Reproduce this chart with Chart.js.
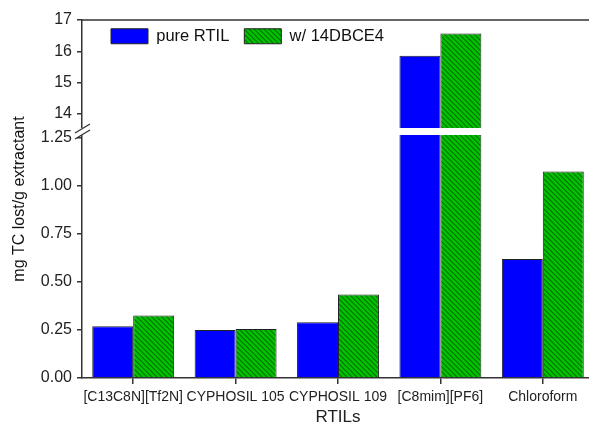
<!DOCTYPE html>
<html>
<head>
<meta charset="utf-8">
<script src="https://cdn.jsdelivr.net/npm/chart.js@4.4.1/dist/chart.umd.min.js"></script>
<style>
  html, body { margin: 0; padding: 0; background: #fff; overflow: hidden; }
  canvas { display: block; }
</style>
</head>
<body>
<canvas id="myChart" width="600" height="424"></canvas>
<script>
const categories = ['[C13C8N][Tf2N]', 'CYPHOSIL 105', 'CYPHOSIL 109', '[C8mim][PF6]', 'Chloroform'];
const pureRTIL = [0.27, 0.25, 0.29, 15.86, 0.62];
const with14DBCE4 = [0.325, 0.255, 0.435, 16.57, 1.075];
const seriesNames = ['pure RTIL', 'w/ 14DBCE4'];

// broken axis ranges
const lowerMin = 0, lowerMax = 1.284;
const upperMin = 13.438, upperMax = 17;

const FONT = "'Liberation Sans', Arial, sans-serif";
const AXIS = '#333';

function hatch() {
    const s = 5;
    const c = document.createElement('canvas');
    c.width = s; c.height = s;
    const g = c.getContext('2d');
    g.fillStyle = '#00c400';
    g.fillRect(0, 0, s, s);
    g.strokeStyle = '#007000';
    g.lineWidth = 1.2;
    g.beginPath();
    for (const k of [-s, 0, s]) {
        g.moveTo(k - 1, -1);
        g.lineTo(k + s + 1, s + 1);
    }
    g.stroke();
    return g.createPattern(c, 'repeat');
}
const greenFill = hatch();

const lowerPart = (arr) => arr.map(v => Math.min(v, lowerMax));
const upperPart = (arr) => arr.map(v => v > upperMin ? v : null);

const breakPlugin = {
    id: 'axisBreak',
    afterInit(chart) {
        // lay the in-plot legend out in one row
        chart.legend.isHorizontal = () => true;
    },
    afterLayout(chart) {
        chart.legend.left = chart.chartArea.left + 14;
        chart.legend.top = chart.chartArea.top - 7;
    },
    afterDatasetsDraw(chart) {
        const {ctx, chartArea} = chart;
        const yb = chart.scales.y.top; // boundary between stacked axes
        ctx.save();
        ctx.fillStyle = '#fff';
        ctx.fillRect(chartArea.left - 3, yb - 3.5, chart.width, 7);
        ctx.strokeStyle = AXIS;
        ctx.lineWidth = 1.3;
        ctx.beginPath();
        ctx.moveTo(75, yb + 1.5); ctx.lineTo(90, yb - 7.5);
        ctx.moveTo(75, yb + 7.5); ctx.lineTo(90, yb - 1.5);
        ctx.stroke();
        // top frame line
        ctx.lineWidth = 1.5;
        ctx.beginPath();
        ctx.moveTo(chartArea.left, chartArea.top);
        ctx.lineTo(chart.width, chartArea.top);
        ctx.stroke();
        // y axis title
        ctx.translate(20, (chartArea.top + chartArea.bottom) / 2);
        ctx.rotate(-Math.PI / 2);
        ctx.fillStyle = '#111';
        ctx.font = '16px ' + FONT;
        ctx.textAlign = 'center';
        ctx.textBaseline = 'middle';
        ctx.fillText('mg TC lost/g extractant', 0, 0);
        ctx.restore();
    }
};

const yCommon = {
    position: 'left',
    stack: 'rtil',
    border: { display: true, color: AXIS, width: 1.5 },
    grid: { display: true, drawOnChartArea: false, drawTicks: true, tickLength: 5, color: AXIS, lineWidth: 1.5 },
    afterFit: (scale) => { scale.width = 82; }
};

const ctx = document.getElementById('myChart').getContext('2d');

const myChart = new Chart(ctx, {
    type: 'bar',
    data: {
        labels: categories,
        datasets: [
            { label: seriesNames[0], data: lowerPart(pureRTIL), yAxisID: 'y', stack: 'a',
              backgroundColor: '#0000ff', borderColor: '#222', borderWidth: 1 },
            { label: seriesNames[1], data: lowerPart(with14DBCE4), yAxisID: 'y', stack: 'b',
              backgroundColor: greenFill, borderColor: '#222', borderWidth: 1 },
            { label: seriesNames[0], data: upperPart(pureRTIL), yAxisID: 'yTop', stack: 'a',
              backgroundColor: '#0000ff', borderColor: '#222', borderWidth: 1 },
            { label: seriesNames[1], data: upperPart(with14DBCE4), yAxisID: 'yTop', stack: 'b',
              backgroundColor: greenFill, borderColor: '#222', borderWidth: 1 }
        ]
    },
    options: {
        responsive: false,
        animation: false,
        layout: { padding: { left: 0, top: 20, right: 6, bottom: 0 } },
        datasets: {
            bar: { categoryPercentage: 0.8, barPercentage: 1.0 }
        },
        scales: {
            y: {
                ...yCommon,
                type: 'linear',
                min: lowerMin,
                max: lowerMax,
                stackWeight: 246.5,
                ticks: { stepSize: 0.25, includeBounds: false, autoSkip: false, color: '#222', padding: 5,
                         font: { family: FONT, size: 16 },
                         callback: (v) => Number(v).toFixed(2) }
            },
            yTop: {
                ...yCommon,
                type: 'linear',
                min: upperMin,
                max: upperMax,
                stackWeight: 111.5,
                ticks: { stepSize: 1, includeBounds: false, autoSkip: false, color: '#222', padding: 5,
                         font: { family: FONT, size: 16 } }
            },
            x: {
                border: { display: true, color: AXIS, width: 1.5 },
                grid: { display: true, offset: false, drawOnChartArea: false, drawTicks: true, tickLength: 6, color: AXIS, lineWidth: 1.5 },
                ticks: { color: '#222', padding: 5, maxRotation: 0, autoSkip: false,
                         font: { family: FONT, size: 14 } },
                title: { display: true, text: 'RTILs', color: '#222', padding: { top: 0, bottom: -2 },
                         font: { family: FONT, size: 17, lineHeight: 1 } },
                afterFit: (scale) => { scale.height = 46; }
            }
        },
        plugins: {
            legend: {
                position: 'chartArea',
                align: 'start',
                labels: {
                    boxWidth: 37,
                    boxHeight: 15,
                    padding: 15,
                    color: '#111',
                    font: { family: FONT, size: 16.5 },
                    filter: (item) => item.datasetIndex < 2
                }
            },
            tooltip: { enabled: false }
        }
    },
    plugins: [breakPlugin]
});
</script>
</body>
</html>
